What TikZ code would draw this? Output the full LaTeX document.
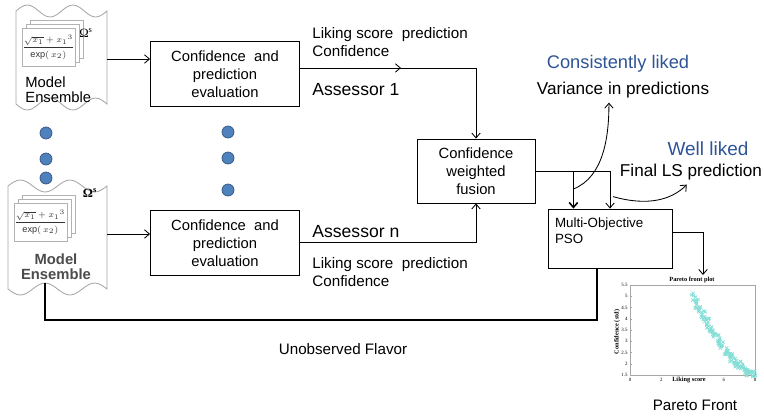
\documentclass[tikz,border=0pt]{standalone}
\usepackage{fontspec}
\setmainfont{Liberation Sans}
\newfontfamily\plotfont{Liberation Serif}
\usetikzlibrary{arrows.meta,positioning,calc}

\definecolor{dotblue}{RGB}{79,129,189}
\definecolor{dotrim}{RGB}{52,86,130}
\definecolor{likeblue}{RGB}{46,84,150}
\definecolor{frontcyan}{RGB}{130,222,214}

\tikzset{
  >={Straight Barb[length=3.5pt,width=6pt]},
  every path/.style={line width=0.6pt},
  evalbox/.style={draw, minimum width=3.725cm, minimum height=1.625cm,
    align=center, font=\fontsize{10.5}{12.7}\selectfont},
  fusebox/.style={draw, minimum width=2.95cm, minimum height=1.6cm,
    align=center, font=\fontsize{10.5}{12.7}\selectfont},
  psobox/.style={draw, minimum height=1.475cm, text width=3.1cm-10pt, inner xsep=5pt,
    align=left, font=\fontsize{9.5}{11.3}\selectfont},
  infotext/.style={inner sep=0pt, align=left, font=\fontsize{10.8}{12.7}\selectfont},
  assessor/.style={inner sep=0pt, font=\fontsize{12.5}{14}\selectfont},
  goal/.style={inner sep=0pt, text=likeblue, font=\fontsize{13}{15}\selectfont},
  outcome/.style={inner sep=0pt, font=\fontsize{12.2}{14}\selectfont},
  dot/.style={circle, draw=dotrim, fill=dotblue, line width=0.5pt, minimum size=0.3cm, inner sep=0pt},
  docline/.style={draw=gray!70, line width=0.6pt},
  pageline/.style={draw=gray!60, line width=0.4pt},
  formula/.style={inner sep=0pt, text=black!80, font=\fontsize{6.5}{7}\selectfont},
  omega/.style={inner sep=0pt, font=\plotfont\fontsize{9}{10}\selectfont},
  plotlabel/.style={inner sep=0pt, font=\plotfont\bfseries\fontsize{4.5}{5}\selectfont},
  ticklabel/.style={inner sep=0pt, font=\plotfont\fontsize{3.5}{4}\selectfont},
}

% wavy document with a stack of model pages
\newcommand{\ensembledoc}[4]{% #1 top left, #2 width, #3 height, #4 name
  \begin{scope}[shift={#1}]
    \pgfmathsetmacro{\q}{#2/8}
    \pgfmathsetmacro{\hb}{#3-11}
    \draw[docline, fill=white] (0,11) sin (\q,5) cos ({2*\q},11) sin ({3*\q},17) cos ({4*\q},11)
      sin ({5*\q},5) cos ({6*\q},11) sin ({7*\q},17) cos ({8*\q},11)
      -- ({8*\q},\hb) sin ({7*\q},{\hb-6}) cos ({6*\q},\hb) sin ({5*\q},{\hb+6}) cos ({4*\q},\hb)
      sin ({3*\q},{\hb-6}) cos ({2*\q},\hb) sin (\q,{\hb+6}) cos (0,\hb) -- cycle;
    \foreach \k in {2,1,0}
      \draw[pageline, fill=white] ({6+4*\k},{28-4*\k}) rectangle ++(53,38);
    \node[formula] (#4math) at (32.5,47) {$\displaystyle\frac{\sqrt{x_1}+x_1{}^{3}}{\exp(\,x_2)}$};
    \coordinate (#4out) at (#2,59);
    \coordinate (#4foot) at ({3*\q},{\hb-6});
  \end{scope}}

\begin{document}
\begin{tikzpicture}[x=0.025cm, y=-0.025cm]
  \useasboundingbox (0,0) rectangle (764,417);

  % model ensembles
  \ensembledoc{(16,0)}{91}{115}{ens1}
  \ensembledoc{(8,175)}{99}{125}{ensn}
  \node[omega] (ens1omega) at (86,33) {Ω\textsuperscript{s}};
  \node[omega, font=\plotfont\bfseries\fontsize{9}{10}\selectfont] (ensnomega) at (90,193) {Ω\textsuperscript{s}};
  \node[infotext, anchor=north west, font=\fontsize{10.5}{10.8}\selectfont] (ens1lbl) at (25,76) {Model\\Ensemble};
  \node[infotext, align=center, text=black!70, font=\bfseries\fontsize{10.5}{10.8}\selectfont] (ensnlbl) at (56,267) {Model\\Ensemble};

  % dots between assessors
  \foreach \y [count=\k] in {133,159,178}
    \node[dot] (ldot\k) at (46,\y) {};
  \foreach \y [count=\k] in {132,158,190}
    \node[dot] (mdot\k) at (228,\y) {};

  % processing boxes
  \node[evalbox] (eval1) at (225,74) {Confidence\ \ and\\prediction\\evaluation};
  \node[evalbox] (evaln) at (225,243) {Confidence\ \ and\\prediction\\evaluation};
  \node[fusebox] (fusion) at (476,171) {Confidence\\weighted\\fusion};
  \node[psobox] (pso) at (610,238.5) {Multi-Objective\\PSO\\\mbox{}};

  % labels
  \node[infotext, anchor=north west] (pred1) at (312,27) {Liking score\ \ prediction\\Confidence};
  \node[assessor, anchor=west] (ass1) at (312,90) {Assessor 1};
  \node[assessor, anchor=west] (assn) at (312,232) {Assessor n};
  \node[infotext, anchor=north west] (predn) at (312,257) {Liking score\ \ prediction\\Confidence};
  \node[goal] (consist) at (618,64) {Consistently liked};
  \node[outcome] (variance) at (623,90) {Variance in predictions};
  \node[goal, font=\fontsize{13.5}{15}\selectfont] (well) at (708,149) {Well liked};
  \node[outcome] (finalls) at (691,172) {Final LS prediction};
  \node[infotext] (unobs) at (343,349) {Unobserved Flavor};
  \node[infotext] (paretolbl) at (695,405) {Pareto Front};

  % Pareto front plot
  \draw[gray!70, line width=0.3pt] (630,285) rectangle (755,375);
  \coordinate (plottop) at (703,275);
  \node[plotlabel] (ptitle) at (692,280) {Pareto front plot};
  \node[plotlabel] (pxlabel) at (689,380) {Liking score};
  \node[plotlabel, rotate=90] (pylabel) at (617,332) {Confidence (std)};
  \foreach \v [count=\k from 0] in {5.5,5,4.5,4,3.5,3,2.5,2,1.5} {
    \node[ticklabel, anchor=east] (ytick\k) at (628,285+11.25*\k) {\v};
    \draw[gray!70, line width=0.3pt] (630,285+11.25*\k) -- ++(2,0);
  }
  \foreach \v in {0,2,6,8}
    \node[ticklabel] (xtick\v) at (630+15.625*\v,379.5) {\v};
  \pgfmathsetseed{7}
  \foreach \i in {0,...,139} {
    \pgfmathsetmacro\t{\i/140}
    \pgfmathsetmacro\px{692+63*\t+rand*3}
    \pgfmathsetmacro\py{294+80*(1-(1-\t)^1.6)+rand*3.5}
    \draw[frontcyan, line width=0.5pt] (\px,\py) +(-1.6,-1.6) -- +(1.6,1.6) +(-1.6,1.6) -- +(1.6,-1.6);
  }

  % connectors
  \draw[->] (ens1out) -- (ens1out -| eval1.west);
  \draw[->] (ensnout) -- (ensnout -| evaln.west);
  \draw[->] ([yshift=4.3pt]eval1.east) -- ++(101,0);
  \draw[->] ([yshift=4.3pt]eval1.east) -| (fusion.north);
  \draw[->] ([yshift=0.7pt]evaln.east) -| (fusion.south);
  \draw[->] (fusion.east) -| (pso.north);
  \path (fusion.east) ++(38,0) coordinate (split);
  \draw[->, line width=1.1pt] (split) -- (split |- pso.north);
  \path (split) ++(0,18) coordinate (varfoot);
  \draw[->] (varfoot) .. controls +(30,-12) and +(0,35) .. ([shift={(-10pt,-3pt)}]variance.south);
  \path (pso.north) ++(3,-12) coordinate (lsfoot);
  \draw[->] (lsfoot) .. controls +(35,10) and +(-15,15) .. ([shift={(-3pt,-3pt)}]finalls.south);
  \draw[->] ([yshift=4pt]pso.east) -| (plottop);
  \draw[line width=1.3pt] (ensnfoot) -- ++(0,37) -| ([xshift=-9pt]pso.south);
\end{tikzpicture}
\end{document}
